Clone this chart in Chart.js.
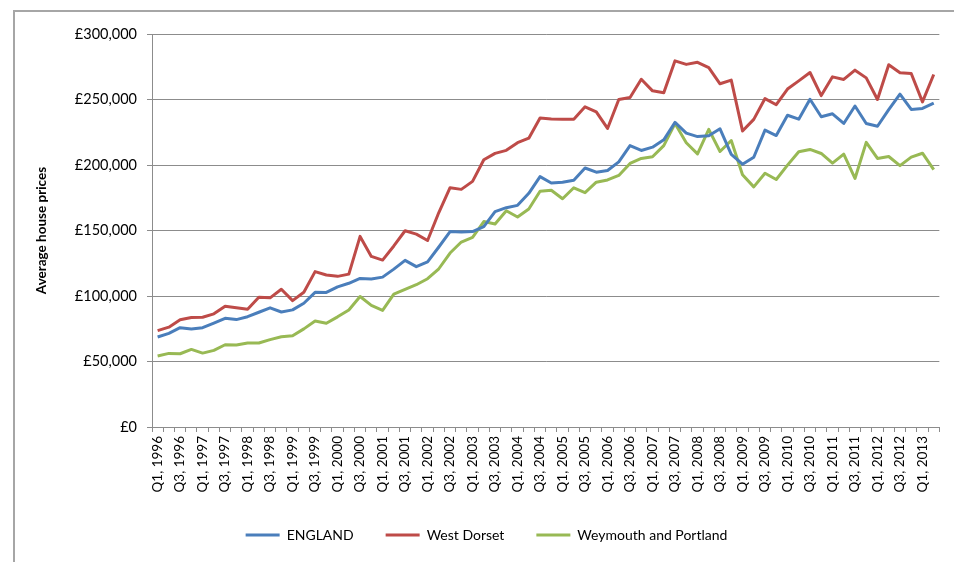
<!DOCTYPE html>
<html>
<head>
<meta charset="utf-8">
<script src="https://cdn.jsdelivr.net/npm/chart.js@4.4.1/dist/chart.umd.min.js"></script>
<style>
  html, body { margin: 0; padding: 0; background: #fff; overflow: hidden; }
  #wrap { position: relative; width: 954px; height: 562px; overflow: hidden; }
  #frame { position: absolute; left: 13px; top: 10px; width: 980px; height: 600px; border-left: 2px solid #a6a6a6; border-top: 2px solid #a6a6a6; z-index: 5; }
  canvas { position: absolute; left: 0; top: 0; z-index: 1; }
</style>
</head>
<body>
<div id="wrap">
  <canvas id="myChart" width="954" height="562"></canvas>
  <div id="frame"></div>
</div>
<script>
// quarters Q1 1996 .. Q2 2013
var quarters = [
  'Q1, 1996','Q2, 1996','Q3, 1996','Q4, 1996','Q1, 1997','Q2, 1997','Q3, 1997','Q4, 1997',
  'Q1, 1998','Q2, 1998','Q3, 1998','Q4, 1998','Q1, 1999','Q2, 1999','Q3, 1999','Q4, 1999',
  'Q1, 2000','Q2, 2000','Q3, 2000','Q4, 2000','Q1, 2001','Q2, 2001','Q3, 2001','Q4, 2001',
  'Q1, 2002','Q2, 2002','Q3, 2002','Q4, 2002','Q1, 2003','Q2, 2003','Q3, 2003','Q4, 2003',
  'Q1, 2004','Q2, 2004','Q3, 2004','Q4, 2004','Q1, 2005','Q2, 2005','Q3, 2005','Q4, 2005',
  'Q1, 2006','Q2, 2006','Q3, 2006','Q4, 2006','Q1, 2007','Q2, 2007','Q3, 2007','Q4, 2007',
  'Q1, 2008','Q2, 2008','Q3, 2008','Q4, 2008','Q1, 2009','Q2, 2009','Q3, 2009','Q4, 2009',
  'Q1, 2010','Q2, 2010','Q3, 2010','Q4, 2010','Q1, 2011','Q2, 2011','Q3, 2011','Q4, 2011',
  'Q1, 2012','Q2, 2012','Q3, 2012','Q4, 2012','Q1, 2013','Q2, 2013'
];

var england = [
  68700, 71500, 75800, 74800, 75800, 79300, 83000, 82000, 84200, 87600,
  91000, 87800, 89400, 94500, 102800, 102700, 107000, 109700, 113400, 112900,
  114400, 120500, 127200, 122400, 126000, 137400, 149200, 148800, 149200, 152900,
  164400, 167400, 169200, 178400, 191100, 186300, 186900, 188400, 197700, 194500,
  195800, 202400, 214800, 211100, 213600, 219200, 232500, 224300, 221700, 222300,
  227600, 208100, 200600, 205900, 226600, 222500, 238000, 235000, 250200, 236800,
  239100, 231700, 245000, 231700, 229600, 242200, 254100, 242400, 243200, 247200
];

var westDorset = [
  73600, 76200, 81800, 83600, 83800, 86400, 92200, 91000, 89900, 99100,
  98600, 105200, 96500, 102800, 118600, 116000, 115000, 116700, 145500, 130200,
  127400, 138200, 149800, 147200, 142400, 163700, 182700, 181400, 187500, 204000,
  208900, 211200, 217000, 220500, 235900, 235200, 235000, 235000, 244400, 240600,
  227900, 250000, 251500, 265400, 256600, 255200, 279500, 276800, 278400, 274400,
  262000, 264800, 226000, 234800, 250700, 246000, 258000, 264200, 270600, 253000,
  267300, 265300, 272400, 266500, 250000, 276500, 270400, 269900, 248200, 269100
];

var weymouth = [
  54200, 56200, 55900, 59200, 56400, 58500, 62800, 62600, 64100, 64100,
  66700, 68900, 69700, 74900, 80900, 79200, 84100, 89300, 99600, 92800,
  89000, 101400, 105100, 108600, 113200, 120800, 132800, 141200, 144800, 156800,
  155000, 165100, 160300, 166400, 180000, 180700, 174200, 182600, 178900, 186900,
  188600, 192000, 201200, 205000, 206300, 214800, 231700, 217000, 208500, 227200,
  210300, 218700, 192600, 183300, 193700, 188900, 199900, 210100, 211900, 208800,
  201400, 208300, 189700, 217300, 205000, 206500, 199500, 206000, 209000, 196400
];

var yTicks = [0, 50000, 100000, 150000, 200000, 250000, 300000];

document.addEventListener('DOMContentLoaded', function () {
    var ctx = document.getElementById('myChart').getContext('2d');
    var gridCol = '#8c8c8c';
    var font = 'Lato, "Open Sans", sans-serif';

    var myChart = new Chart(ctx, {
        type: 'line',
        data: {
            labels: quarters,
            datasets: [{
                label: 'ENGLAND',
                data: england,
                borderColor: '#4a7ebb',
                backgroundColor: '#4a7ebb',
                borderWidth: 3
            }, {
                label: 'West Dorset',
                data: westDorset,
                borderColor: '#be4b48',
                backgroundColor: '#be4b48',
                borderWidth: 3
            }, {
                label: 'Weymouth and Portland',
                data: weymouth,
                borderColor: '#98b954',
                backgroundColor: '#98b954',
                borderWidth: 3
            }]
        },
        options: {
            responsive: false,
            animation: false,
            events: [],
            elements: {
                line: { tension: 0, borderJoinStyle: 'round' },
                point: { radius: 0 }
            },
            layout: { padding: { left: 30, right: 11, top: 34, bottom: 10 } },
            plugins: {
                tooltip: { enabled: false },
                legend: {
                    position: 'bottom',
                    labels: {
                        usePointStyle: true,
                        pointStyle: 'line',
                        pointStyleWidth: 34,
                        padding: 32,
                        color: '#000',
                        font: { family: font, size: 14 }
                    }
                }
            },
            scales: {
                x: {
                    offset: true,
                    grid: {
                        offset: true,
                        drawOnChartArea: false,
                        drawTicks: true,
                        tickLength: 5,
                        color: gridCol
                    },
                    border: { color: gridCol },
                    ticks: {
                        autoSkip: false,
                        maxRotation: 90,
                        minRotation: 90,
                        padding: 4,
                        color: '#000',
                        font: { family: font, size: 13.5 },
                        callback: function (val, idx) {
                            return idx % 2 === 0 ? quarters[idx] : '';
                        }
                    },
                    afterFit: function (scale) { scale.height = 69; }
                },
                y: {
                    min: 0,
                    max: 300000,
                    afterBuildTicks: function (scale) {
                        scale.ticks = yTicks.map(function (v) { return { value: v }; });
                    },
                    grid: {
                        color: gridCol,
                        tickLength: 5
                    },
                    border: { color: gridCol },
                    ticks: {
                        padding: 10,
                        color: '#000',
                        font: { family: font, size: 14.5 },
                        callback: function (v) {
                            return '\u00a3' + v.toLocaleString('en-GB');
                        }
                    },
                    title: {
                        display: true,
                        text: 'Average house prices',
                        color: '#000',
                        font: { family: font, size: 13.5, weight: 'bold' },
                        padding: { top: 4, bottom: 0 }
                    },
                    afterFit: function (scale) { scale.width = 122; }
                }
            }
        }
    });
});
</script>
</body>
</html>
